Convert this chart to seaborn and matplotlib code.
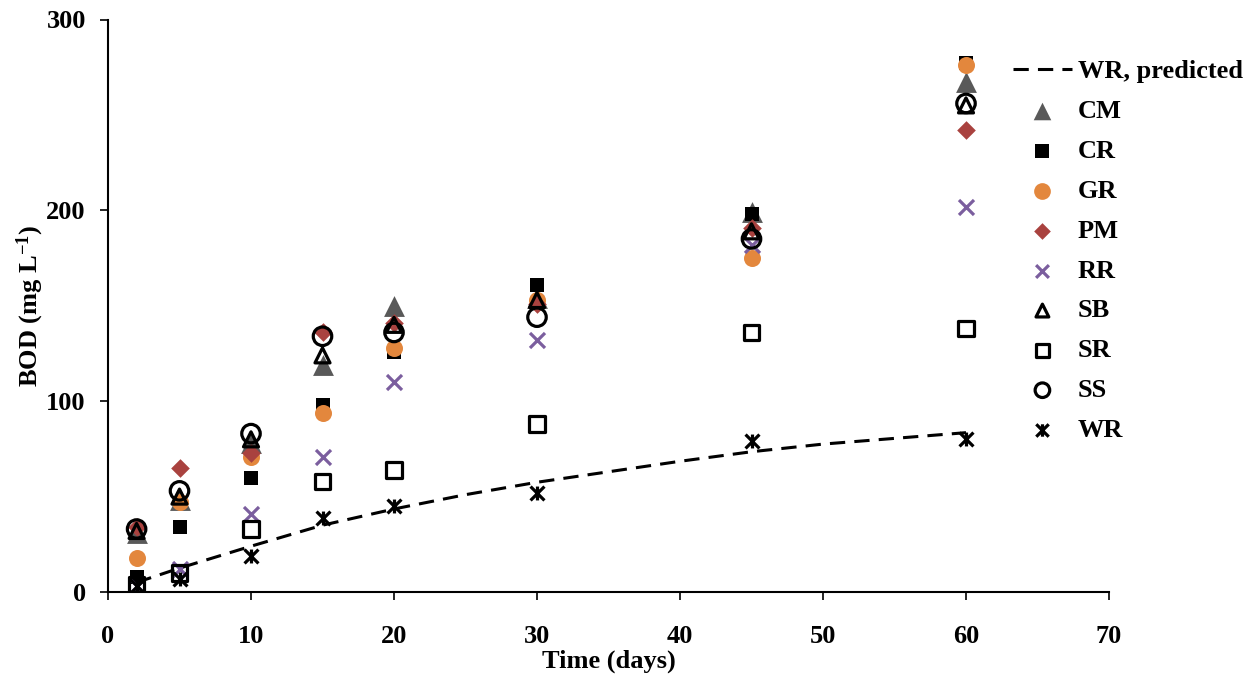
import numpy as np
import pandas as pd
import matplotlib
matplotlib.use("Agg")
import matplotlib.pyplot as plt
from matplotlib.path import Path
import seaborn as sns

# ---- data ----
days = [2, 5, 10, 15, 20, 30, 45, 60]
CM = [31, 48, 78, 119, 150, 154, 199, 267]
CR = [8, 34, 60, 98, 126, 161, 198, 277]
GR = [18, 47, 71, 94, 128, 153, 175, 276]
PM = [34, 65, 73, 136, 141, 151, 191, 242]
RR = [3, 12, 41, 71, 110, 132, 182, 202]
SB = [32, 50, 80, 124, 140, 153, 189, 255]
SR = [4, 10, 33, 58, 64, 88, 136, 138]
SS = [33, 53, 83, 134, 136, 144, 185, 256]
WR = [3, 7, 19, 39, 45, 52, 79, 80]

pred_days = [2, 5, 10, 15, 20, 25, 30, 35, 40, 45, 50, 55, 60]
WR_pred = [5, 12.5, 24, 35, 43.5, 51, 57.5, 63, 68.5, 73.5, 77.5, 80.5, 83.5]

x_ticks = [0, 10, 20, 30, 40, 50, 60, 70]
y_ticks = [0, 100, 200, 300]

sns.set_style("ticks")
plt.rcParams['font.family'] = ['Liberation Serif', 'DejaVu Serif']
plt.rcParams['font.weight'] = 'bold'
plt.rcParams['text.color'] = 'black'
plt.rcParams['axes.labelcolor'] = 'black'
plt.rcParams['xtick.color'] = 'black'
plt.rcParams['ytick.color'] = 'black'
plt.rcParams['mathtext.fontset'] = 'custom'
plt.rcParams['mathtext.rm'] = 'Liberation Serif:bold'
plt.rcParams['mathtext.bf'] = 'Liberation Serif:bold'
plt.rcParams['mathtext.it'] = 'Liberation Serif:bold:italic'

fig = plt.figure(figsize=(12.5, 6.74), dpi=100)
ax = fig.add_axes([108/1250, 1 - 592/674, (1109-108)/1250, (592-19.5)/674])

# asterisk (star) marker
star = Path([(-1, -1), (1, 1), (-1, 1), (1, -1), (0, -1), (0, 1)],
            [Path.MOVETO, Path.LINETO, Path.MOVETO, Path.LINETO, Path.MOVETO, Path.LINETO])

sns.lineplot(x=pred_days, y=WR_pred, ax=ax, color='black', lw=2.2,
             linestyle=(0, (5, 3)), label='WR, predicted')

# name, values, marker, plot size, legend size, face, edge, lw
specs = [
    ('CM', CM, '^', 225, 160, '#595959', '#595959', 0),
    ('CR', CR, 's', 112, 112, 'black', 'black', 0),
    ('GR', GR, 'o', 150, 145, '#E3873D', '#E3873D', 0),
    ('PM', PM, 'D', 90, 72, '#A9423F', '#A9423F', 0),
    ('RR', RR, 'x', 117, 85, '#7B5E9E', '#7B5E9E', 2.3),
    ('SB', SB, '^', 117, 85, 'none', 'black', 2.3),
    ('SR', SR, 's', 123, 90, 'none', 'black', 2.3),
    ('SS', SS, 'o', 177, 110, 'none', 'black', 2.3),
    ('WR', WR, star, 100, 80, 'black', 'black', 2.3),
]

leg_sizes = []
for name, vals, mk, s, ls, fc, ec, lw in specs:
    df = pd.DataFrame({'day': days, 'bod': vals})
    sns.scatterplot(data=df, x='day', y='bod', marker=mk, s=s, color=ec,
                    ax=ax, label=name, legend=False)
    coll = ax.collections[-1]
    coll.set_facecolor(fc)
    coll.set_edgecolor(ec)
    coll.set_linewidth(lw)
    leg_sizes.append(ls)

ax.set_xlim(0, 70)
ax.set_ylim(0, 300)
ax.set_xticks(x_ticks)
ax.set_yticks(y_ticks)
ax.tick_params(axis='both', direction='out', length=6, width=1.2, color='black',
               labelsize=19, labelcolor='black')
ax.tick_params(axis='x', pad=18)
ax.tick_params(axis='y', pad=10)
for lab in ax.get_xticklabels() + ax.get_yticklabels():
    lab.set_fontweight('bold')
sns.despine(ax=ax)
for sp in ['left', 'bottom']:
    ax.spines[sp].set_linewidth(1.5)
    ax.spines[sp].set_color('black')

ax.set_xlabel('Time (days)', fontsize=19, fontweight='bold', labelpad=1, color='black')
ax.set_ylabel('BOD (mg L$^{\\mathbf{-1}}$)', fontsize=19, fontweight='bold', labelpad=0,
              color='black')

handles, labels = ax.get_legend_handles_labels()
leg = ax.legend(handles, labels, loc='upper left', bbox_to_anchor=(1013/1250, 1 - 60/674),
                bbox_transform=fig.transFigure, frameon=False,
                handlelength=2.23, handletextpad=0.23, labelspacing=0.62,
                borderpad=0, borderaxespad=0,
                prop={'weight': 'bold', 'size': 19})
for t in leg.get_texts():
    t.set_color('black')
for h, ls in zip(leg.legend_handles[1:], leg_sizes):
    h.set_sizes([ls])

fig.savefig('out.png', dpi=100)
